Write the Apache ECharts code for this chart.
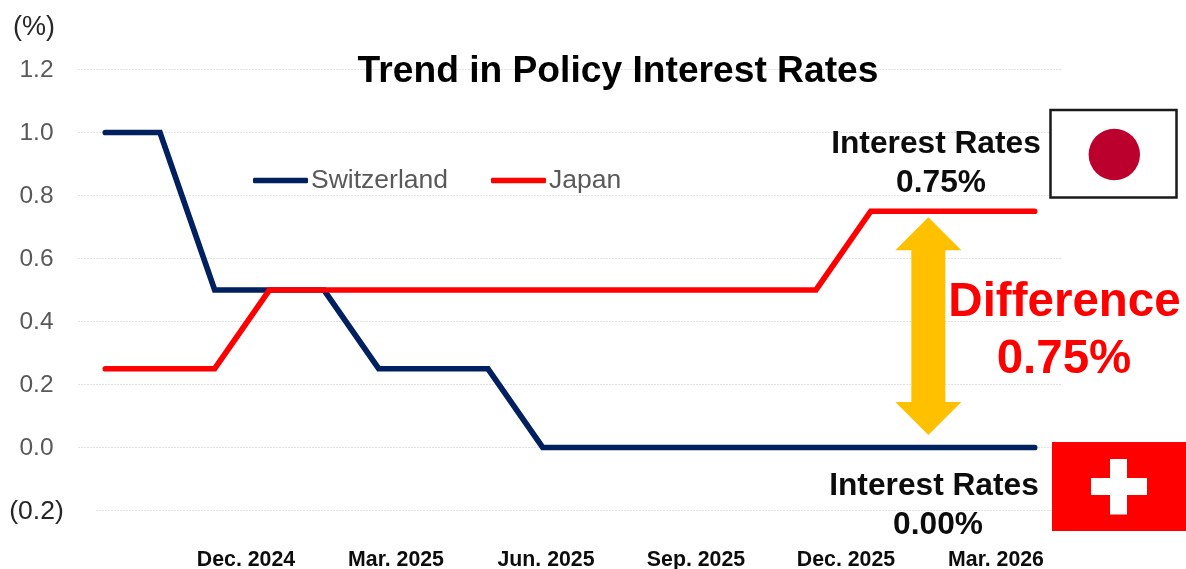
<!DOCTYPE html>
<html>
<head>
<meta charset="utf-8">
<style>html,body{margin:0;padding:0;background:#fff}#chart{width:1186px;height:569px}</style>
<script src="https://cdn.jsdelivr.net/npm/echarts@6/dist/echarts.min.js"></script>
</head>
<body>
<div id="chart"></div>
<script>
// Month-end policy rates, Oct. 2024 to Mar. 2026 (%)
const months = ['Oct-24','Nov-24','Dec-24','Jan-25','Feb-25','Mar-25','Apr-25','May-25','Jun-25',
                'Jul-25','Aug-25','Sep-25','Oct-25','Nov-25','Dec-25','Jan-26','Feb-26','Mar-26'];
const switzerland = [1,1,0.5,0.5,0.5,0.25,0.25,0.25,0,0,0,0,0,0,0,0,0,0];
const japan = [0.25,0.25,0.25,0.5,0.5,0.5,0.5,0.5,0.5,0.5,0.5,0.5,0.5,0.5,0.75,0.75,0.75,0.75];
const quarterLabels = ['Dec. 2024','Mar. 2025','Jun. 2025','Sep. 2025','Dec. 2025','Mar. 2026'];
const gapRange = [[15, 0, 0.75]];

const FONT = '"Liberation Sans", Arial, sans-serif';
const INK = '#0d0d0d';
const chart = echarts.init(document.getElementById('chart'));

// Vertical double-headed arrow spanning the gap between the two final rates
function renderGapArrow(params, api) {
  const top = api.coord([api.value(0), api.value(2)]);
  const bottom = api.coord([api.value(0), api.value(1)]);
  const x = top[0] + 3;
  const yTop = top[1] + 6;
  const yBot = bottom[1] - 12.5;
  const head = 33, hw = 33, sw = 17;
  return {
    type: 'polygon',
    shape: { points: [
      [x, yTop], [x + hw, yTop + head], [x + sw, yTop + head], [x + sw, yBot - head],
      [x + hw, yBot - head], [x, yBot], [x - hw, yBot - head], [x - sw, yBot - head],
      [x - sw, yTop + head], [x - hw, yTop + head]
    ] },
    style: { fill: '#FFC000' }
  };
}

function note(x, y, text, size, color) {
  return { type: 'text', x, y, z: 20, style: {
    text, fontFamily: FONT, fontWeight: 'bold', fontSize: size, fill: color,
    align: 'center', verticalAlign: 'middle'
  } };
}

chart.setOption({
  animation: false,
  backgroundColor: '#fff',
  title: {
    text: 'Trend in Policy Interest Rates',
    left: 613, top: 67, textAlign: 'center', textVerticalAlign: 'middle',
    textStyle: { fontFamily: FONT, fontWeight: 'bold', fontSize: 37.2, color: '#000' }
  },
  legend: {
    left: 248, top: 162, itemWidth: 55, itemHeight: 5.5, itemGap: 43, icon: 'roundRect',
    data: ['Switzerland', 'Japan'],
    textStyle: { fontFamily: FONT, fontSize: 26.5, color: '#595959', padding: [0, 0, 0, -2] }
  },
  grid: [
    { left: 78, width: 984, top: 69.5, height: 441, outerBoundsMode: 'none' },
    { left: 171, width: 900, top: 69.5, height: 441, outerBoundsMode: 'none' }
  ],
  xAxis: [
    { type: 'category', gridIndex: 0, data: months, boundaryGap: true,
      axisLine: { show: false }, axisTick: { show: false }, axisLabel: { show: false } },
    { type: 'category', gridIndex: 1, data: quarterLabels, boundaryGap: true,
      axisLine: { show: false }, axisTick: { show: false }, splitLine: { show: false },
      axisLabel: { interval: 0, margin: 39, fontFamily: FONT, fontWeight: 'bold', fontSize: 21.3, color: INK } }
  ],
  yAxis: [
    { type: 'value', gridIndex: 0, min: -0.2, max: 1.2, interval: 0.2,
      axisLine: { show: false }, axisTick: { show: false },
      splitLine: { lineStyle: { color: '#E2E2E2', type: [2, 1], width: 1 } },
      axisLabel: {
        align: 'center', margin: 41.5, fontFamily: FONT, fontSize: 24.5, color: '#595959',
        padding: [2, 0, 0, 0],
        formatter: v => v < 0 ? '{neg|(' + Math.abs(v).toFixed(1) + ')}' : v.toFixed(1),
        rich: { neg: { fontFamily: FONT, fontSize: 26.5, color: '#262626' } }
      } },
    { type: 'value', gridIndex: 1, min: -0.2, max: 1.2, show: false }
  ],
  series: [
    { name: 'Switzerland', type: 'line', data: switzerland, symbol: 'none', z: 3,
      lineStyle: { color: '#002060', width: 5.7, cap: 'round', join: 'miter' },
      itemStyle: { color: '#002060' } },
    { name: 'Japan', type: 'line', data: japan, symbol: 'none', z: 4,
      lineStyle: { color: '#FF0000', width: 5.7, cap: 'round', join: 'miter' },
      itemStyle: { color: '#FF0000' } },
    { name: 'Gap', type: 'custom', data: gapRange, renderItem: renderGapArrow, z: 5,
      encode: { x: 0, y: [1, 2] } }
  ],
  graphic: [
    // Clears the left end of the lowest gridline next to its wider tick label
    { type: 'rect', shape: { x: 77, y: 506, width: 19, height: 9 }, style: { fill: '#fff' }, z: 2 },
    { type: 'text', x: 34, y: 28, z: 20, style: { text: '(%)', fontFamily: FONT, fontSize: 27, fill: '#262626', align: 'center', verticalAlign: 'middle' } },
    // Japanese flag
    { type: 'rect', shape: { x: 1050.5, y: 110, width: 126, height: 87.5 }, style: { fill: '#fff', stroke: '#1a1a1a', lineWidth: 2.5 }, z: 10 },
    { type: 'circle', shape: { cx: 1114.3, cy: 154.5, r: 25.7 }, style: { fill: '#BC002D' }, z: 11 },
    // Swiss flag
    { type: 'rect', shape: { x: 1052, y: 442, width: 134, height: 89 }, style: { fill: '#FF0000' }, z: 10 },
    { type: 'rect', shape: { x: 1091, y: 478, width: 56, height: 17 }, style: { fill: '#fff' }, z: 11 },
    { type: 'rect', shape: { x: 1110, y: 459, width: 17, height: 55.5 }, style: { fill: '#fff' }, z: 11 },
    note(936, 144, 'Interest Rates', 31.7, INK),
    note(941, 183, '0.75%', 31.7, INK),
    note(934, 486, 'Interest Rates', 31.7, INK),
    note(938, 525, '0.00%', 31.7, INK),
    note(1064.5, 303, 'Difference', 47.5, '#FF0000'),
    note(1064, 360, '0.75%', 47.5, '#FF0000')
  ]
});
</script>
</body>
</html>
